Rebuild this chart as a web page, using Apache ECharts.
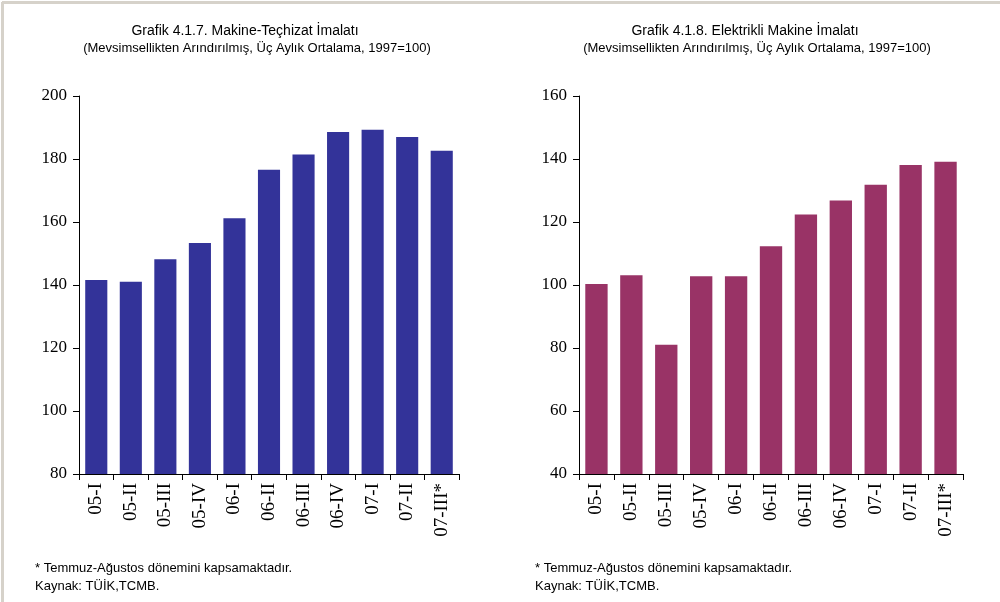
<!DOCTYPE html>
<html>
<head>
<meta charset="utf-8">
<script src="https://cdn.jsdelivr.net/npm/echarts@6/dist/echarts.min.js"></script>
<style>
  html, body { margin: 0; padding: 0; background: #ffffff; }
  #chart { width: 1000px; height: 602px; }
</style>
</head>
<body>
<div id="chart"></div>
<script>
// Quarterly periods (07-III covers July–August only)
const categories = ['05-I', '05-II', '05-III', '05-IV', '06-I', '06-II', '06-III', '06-IV', '07-I', '07-II', '07-III*'];

// Grafik 4.1.7 – Makine-Teçhizat İmalatı (1997=100)
const machineryValues = [141.6, 141.0, 148.2, 153.3, 161.2, 176.6, 181.4, 188.6, 189.3, 187.0, 182.6];
// Grafik 4.1.8 – Elektrikli Makine İmalatı (1997=100)
const electricalValues = [100.3, 103.1, 81.0, 102.8, 102.8, 112.3, 122.4, 126.8, 131.8, 138.1, 139.1];

// Value-axis tick labels
const machineryTicks = [80, 100, 120, 140, 160, 180, 200];
const electricalTicks = [40, 60, 80, 100, 120, 140, 160];

const titleLeft = 'Grafik 4.1.7. Makine-Teçhizat İmalatı';
const titleRight = 'Grafik 4.1.8. Elektrikli Makine İmalatı';
const subtitle = '(Mevsimsellikten Arındırılmış, Üç Aylık Ortalama, 1997=100)';
const footNote = '* Temmuz-Ağustos dönemini kapsamaktadır.';
const sourceNote = 'Kaynak: TÜİK,TCMB.';

const SANS = '"Liberation Sans", Arial, sans-serif';
const SERIF = '"Liberation Serif", "Times New Roman", serif';

const chart = echarts.init(document.getElementById('chart'), null, { renderer: 'canvas' });

function valueAxis(ticks, gridIndex) {
  return {
    type: 'value',
    gridIndex: gridIndex,
    min: ticks[0],
    max: ticks[ticks.length - 1],
    interval: ticks[1] - ticks[0],
    axisLine: { show: true, lineStyle: { color: '#000', width: 1 } },
    axisTick: { show: true, inside: false, length: 6, lineStyle: { color: '#000' } },
    axisLabel: { color: '#000', fontFamily: SERIF, fontSize: 17, margin: 12 },
    splitLine: { show: false }
  };
}

function categoryAxis(gridIndex) {
  return {
    type: 'category',
    gridIndex: gridIndex,
    data: categories,
    boundaryGap: true,
    axisLine: { show: true, lineStyle: { color: '#000', width: 1 } },
    axisTick: { show: true, inside: false, length: 6, alignWithLabel: false, lineStyle: { color: '#000' } },
    axisLabel: { color: '#000', fontFamily: SERIF, fontSize: 19, rotate: 90, margin: 9, interval: 0 }
  };
}

function textEl(text, x, y, size, align) {
  return {
    type: 'text',
    x: x, y: y,
    style: { text: text, font: size + 'px ' + SANS, fill: '#000', align: align || 'center', verticalAlign: 'middle' }
  };
}

chart.setOption({
  backgroundColor: '#ffffff',
  animation: false,
  grid: [
    { left: 79, right: 541, top: 96, bottom: 128 },
    { left: 579, right: 37, top: 96, bottom: 128 }
  ],
  xAxis: [categoryAxis(0), categoryAxis(1)],
  yAxis: [valueAxis(machineryTicks, 0), valueAxis(electricalTicks, 1)],
  series: [
    {
      type: 'bar', xAxisIndex: 0, yAxisIndex: 0,
      data: machineryValues,
      barCategoryGap: '36%',
      itemStyle: { color: '#333399' }
    },
    {
      type: 'bar', xAxisIndex: 1, yAxisIndex: 1,
      data: electricalValues,
      barCategoryGap: '36%',
      itemStyle: { color: '#993366' }
    }
  ],
  graphic: [
    // page frame edges
    { type: 'line', shape: { x1: 2, y1: 2.5, x2: 1000, y2: 2.5 }, style: { stroke: '#d6d2ca', lineWidth: 3 } },
    { type: 'line', shape: { x1: 2.5, y1: 2, x2: 2.5, y2: 602 }, style: { stroke: '#d6d2ca', lineWidth: 3 } },
    textEl(titleLeft, 245, 31, 14),
    textEl(subtitle, 257, 48, 13),
    textEl(titleRight, 745, 31, 14),
    textEl(subtitle, 757, 48, 13),
    textEl(footNote, 35, 568, 13, 'left'),
    textEl(sourceNote, 35, 586, 13, 'left'),
    textEl(footNote, 535, 568, 13, 'left'),
    textEl(sourceNote, 535, 586, 13, 'left')
  ]
});
</script>
</body>
</html>
